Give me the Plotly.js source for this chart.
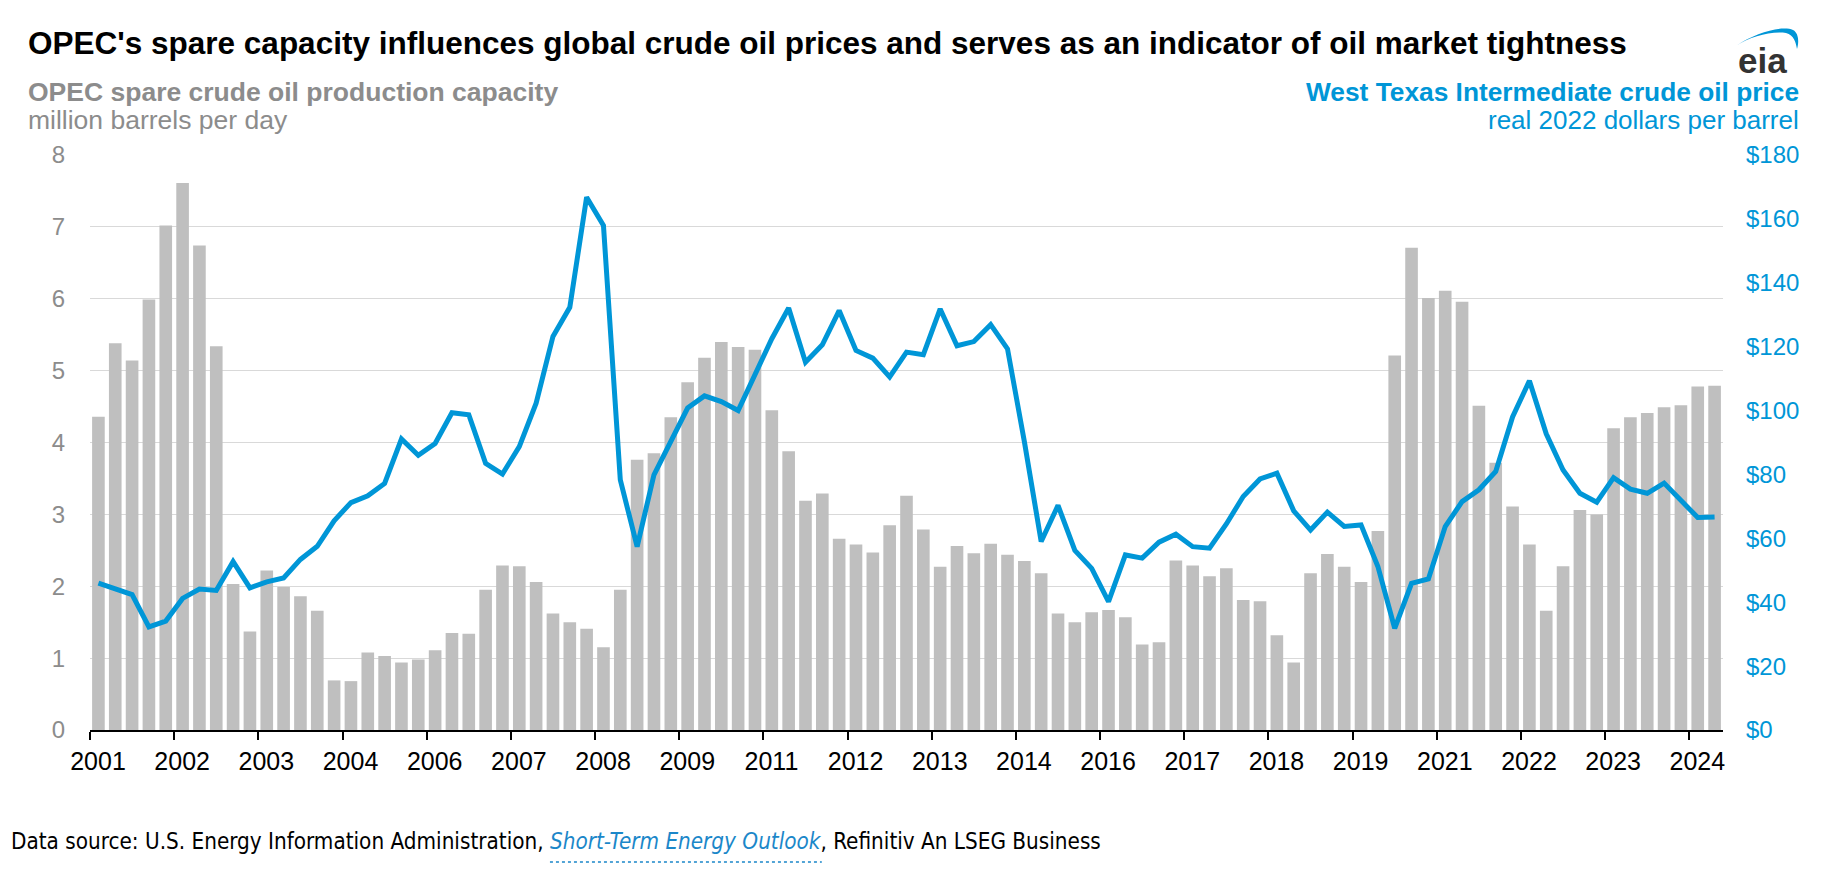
<!DOCTYPE html>
<html>
<head>
<meta charset="utf-8">
<script src="https://cdn.plot.ly/plotly-3.0.1.min.js"></script>
<style>
  html, body { margin: 0; padding: 0; background: #ffffff; }
  #chart { width: 1836px; height: 870px; }
</style>
</head>
<body>
<div id="chart"></div>
<script>
// OPEC spare crude oil production capacity, million barrels per day (quarterly, 2001Q1 - 2025Q1)
const spareCapacity = [
  4.36, 5.38, 5.14, 5.99, 7.02, 7.61, 6.74, 5.34, 2.03, 1.37,
  2.22, 1.99, 1.86, 1.66, 0.69, 0.68, 1.08, 1.03, 0.94, 0.98,
  1.11, 1.35, 1.34, 1.95, 2.29, 2.28, 2.06, 1.62, 1.50, 1.41,
  1.15, 1.95, 3.76, 3.85, 4.35, 4.84, 5.18, 5.40, 5.33, 5.29,
  4.45, 3.88, 3.19, 3.29, 2.66, 2.58, 2.47, 2.85, 3.26, 2.79,
  2.27, 2.56, 2.46, 2.59, 2.44, 2.35, 2.18, 1.62, 1.50, 1.64,
  1.67, 1.57, 1.19, 1.22, 2.36, 2.29, 2.14, 2.25, 1.81, 1.79,
  1.32, 0.94, 2.18, 2.45, 2.27, 2.06, 2.77, 5.21, 6.71, 6.01,
  6.11, 5.96, 4.51, 3.72, 3.11, 2.58, 1.66, 2.28, 3.06, 3.00,
  4.20, 4.35, 4.41, 4.49, 4.52, 4.78, 4.79
];

// West Texas Intermediate crude oil price, real 2022 dollars per barrel
const wtiPrice = [
  46.0, 44.1, 42.4, 32.3, 34.1, 41.2, 44.1, 43.7, 52.7, 44.5,
  46.4, 47.6, 53.4, 57.5, 65.5, 71.2, 73.3, 77.2, 91.1, 86.0,
  89.7, 99.3, 98.7, 83.5, 80.1, 88.7, 102.3, 123.2, 132.3, 166.8,
  157.9, 78.3, 57.4, 79.9, 90.3, 100.8, 104.6, 102.8, 100.0, 111.7,
  122.5, 132.1, 115.1, 120.6, 131.3, 118.8, 116.4, 110.5, 118.3, 117.5,
  131.8, 120.3, 121.6, 126.9, 119.3, 90.3, 59.0, 70.3, 56.2, 50.6,
  40.2, 54.8, 53.8, 58.8, 61.3, 57.4, 56.9, 64.5, 73.1, 78.6,
  80.4, 68.6, 62.6, 68.2, 63.7, 64.2, 51.2, 31.8, 45.9, 47.3,
  63.7, 71.5, 75.2, 80.9, 98.0, 109.3, 92.7, 81.4, 74.1, 71.3,
  79.0, 75.4, 74.1, 77.3, 71.8, 66.5, 66.7
];

// Tick labels (one every five quarters)
const tickYears = [
  '2001', '2002', '2003', '2004', '2006', '2007', '2008', '2009', '2011', '2012',
  '2013', '2014', '2016', '2017', '2018', '2019', '2021', '2022', '2023', '2024'
];

const firstYear = 2001;
const quarters = spareCapacity.map((_, i) => (firstYear + Math.floor(i / 4)) + 'Q' + (i % 4 + 1));
const xIdx = quarters.map((_, i) => i);
const tickPos = tickYears.map((_, k) => k * 5 - 0.5);

const W = 1836, H = 870;
const M = { l: 90, r: 113, t: 155, b: 140 };
const PW = W - M.l - M.r, PH = H - M.t - M.b;
const px = x => (x - M.l) / PW;
const py = y => (H - M.b - y) / PH;

const FONT = 'Liberation Sans, Arial, Helvetica, sans-serif';
const BLUE = '#0096d7';
const GRAY = '#8c8c8c';
const LINK = '#1b87c9';

const traces = [
  {
    type: 'bar', x: xIdx, y: spareCapacity, customdata: quarters, yaxis: 'y',
    textposition: 'none',
    marker: { color: '#bfbfbf', line: { width: 0 } },
    hovertemplate: '%{customdata}: %{y:.2f}<extra></extra>'
  },
  {
    type: 'scatter', mode: 'lines', x: xIdx, y: wtiPrice, customdata: quarters, yaxis: 'y2',
    line: { color: BLUE, width: 5 },
    hovertemplate: '%{customdata}: $%{y:.1f}<extra></extra>'
  }
];

const arc = [
  [1736.7, 45.5], [1755, 33], [1782, 25], [1793, 30],
  [1799, 33], [1799, 43], [1797, 49],
  [1796, 43], [1794, 35], [1786, 33],
  [1770, 31], [1750, 37], [1736.7, 45.5]
].map(p => px(p[0]).toFixed(5) + ',' + py(p[1]).toFixed(5));
const arcPath = 'M' + arc[0] + ' C' + arc[1] + ' ' + arc[2] + ' ' + arc[3] +
  ' C' + arc[4] + ' ' + arc[5] + ' ' + arc[6] +
  ' C' + arc[7] + ' ' + arc[8] + ' ' + arc[9] +
  ' C' + arc[10] + ' ' + arc[11] + ' ' + arc[12] + ' Z';

const layout = {
  width: W, height: H,
  margin: { l: M.l, r: M.r, t: M.t, b: M.b, pad: 0 },
  paper_bgcolor: '#ffffff', plot_bgcolor: '#ffffff',
  showlegend: false,
  bargap: 0.25,
  font: { family: FONT, color: '#000' },
  xaxis: {
    range: [-0.5, 96.5], tickmode: 'array', tickvals: tickPos, ticktext: tickYears,
    ticks: 'outside', ticklen: 8, tickwidth: 1.5, tickcolor: '#000',
    showline: true, linecolor: '#000', linewidth: 1.5,
    showgrid: false, zeroline: false, fixedrange: true,
    tickfont: { family: FONT, size: 25, color: '#000' },
    ticklabelshift: 8
  },
  yaxis: {
    range: [0, 8], dtick: 1, tick0: 0,
    showgrid: true, gridcolor: '#d9d9d9', gridwidth: 1.3,
    zeroline: false, showline: false, ticks: '',
    tickfont: { family: FONT, size: 24, color: GRAY },
    ticklabelstandoff: 24, fixedrange: true
  },
  yaxis2: {
    overlaying: 'y', side: 'right', range: [0, 180], dtick: 20, tick0: 0,
    tickprefix: '$', showgrid: false, zeroline: false, showline: false, ticks: '',
    tickfont: { family: FONT, size: 24, color: BLUE },
    ticklabelstandoff: 22, fixedrange: true
  },
  annotations: [
    { xref: 'paper', yref: 'paper', x: px(26), y: py(43), xanchor: 'left', yanchor: 'middle', showarrow: false,
      text: "<b>OPEC's spare capacity influences global crude oil prices and serves as an indicator of oil market tightness</b>",
      font: { family: FONT, size: 31.5, color: '#000' } },
    { xref: 'paper', yref: 'paper', x: px(26), y: py(92), xanchor: 'left', yanchor: 'middle', showarrow: false,
      text: '<b>OPEC spare crude oil production capacity</b>',
      font: { family: FONT, size: 26.5, color: GRAY } },
    { xref: 'paper', yref: 'paper', x: px(26), y: py(119.5), xanchor: 'left', yanchor: 'middle', showarrow: false,
      text: 'million barrels per day',
      font: { family: FONT, size: 26.5, color: GRAY } },
    { xref: 'paper', yref: 'paper', x: px(1801), y: py(92), xanchor: 'right', yanchor: 'middle', showarrow: false,
      text: '<b>West Texas Intermediate crude oil price</b>',
      font: { family: FONT, size: 26.3, color: BLUE } },
    { xref: 'paper', yref: 'paper', x: px(1801), y: py(119.5), xanchor: 'right', yanchor: 'middle', showarrow: false,
      text: 'real 2022 dollars per barrel',
      font: { family: FONT, size: 26, color: BLUE } },
    { xref: 'paper', yref: 'paper', x: px(1762), y: py(61), xanchor: 'center', yanchor: 'middle', showarrow: false,
      text: '<b>eia</b>',
      font: { family: FONT, size: 35, color: '#333333' } },
    { xref: 'paper', yref: 'paper', x: px(9), y: py(841), xanchor: 'left', yanchor: 'middle', showarrow: false,
      text: 'Data source: U.S. Energy Information Administration, <i><span style="color:' + LINK + '">Short-Term Energy Outlook</span></i>, Refinitiv An LSEG Business',
      font: { family: 'Liberation Sans Narrow, DejaVu Sans Condensed, Liberation Sans, sans-serif', size: 22.3, color: '#000' } }
  ],
  shapes: [
    { type: 'path', xref: 'paper', yref: 'paper', path: arcPath, fillcolor: BLUE, line: { width: 0 } }
  ]
};

Plotly.newPlot('chart', traces, layout, { displayModeBar: false }).then(gd => {
  // dotted underline under the linked source name
  const spans = Array.from(gd.querySelectorAll('.annotation-text tspan'));
  const t = spans.find(s => s.textContent.indexOf('Short-Term') === 0);
  if (t) {
    const r = t.getBoundingClientRect();
    const g = gd.getBoundingClientRect();
    const x0 = r.left - g.left, x1 = r.right - g.left, y = r.bottom - g.top + 8;
    const shapes = layout.shapes.concat([{
      type: 'line', xref: 'paper', yref: 'paper',
      x0: px(x0), x1: px(x1), y0: py(y), y1: py(y),
      line: { color: LINK, width: 1.5, dash: 'dot' }
    }]);
    Plotly.relayout(gd, { shapes: shapes });
  }
});
</script>
</body>
</html>
